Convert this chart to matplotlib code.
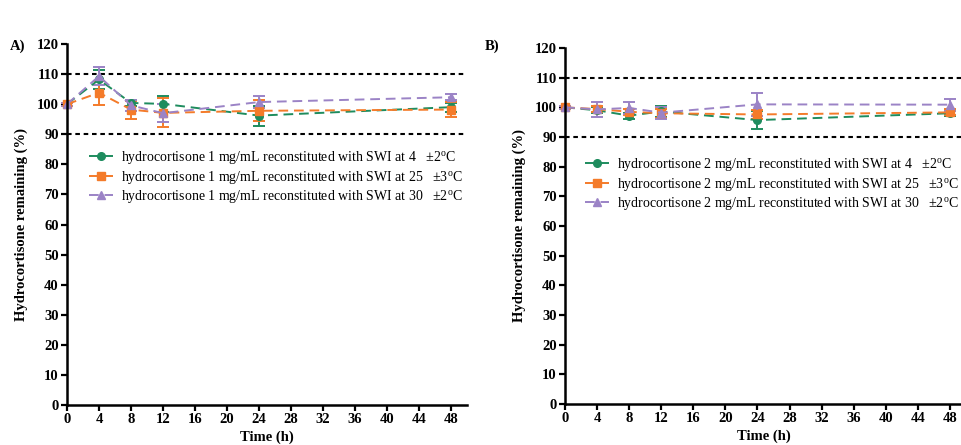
import matplotlib
matplotlib.use("Agg")
import matplotlib.pyplot as plt
from matplotlib.lines import Line2D

plt.rcParams['font.family'] = ['Liberation Serif', 'DejaVu Serif']
plt.rcParams['mathtext.fontset'] = 'custom'
plt.rcParams['mathtext.rm'] = 'Liberation Serif'
plt.rcParams['mathtext.it'] = 'Liberation Serif:italic'
plt.rcParams['mathtext.bf'] = 'Liberation Serif:bold'

time_h = [0, 4, 8, 12, 24, 48]

# Panel A: 1 mg/mL
a_4c = [100, 108.2, 100.4, 100.1, 96.2, 99.0]
a_4c_err = [0.5, 3.0, 1.0, 2.6, 3.3, 1.5]
a_25c = [100, 103.8, 98.2, 97.1, 97.8, 98.2]
a_25c_err = [0.5, 4.0, 3.0, 4.8, 3.5, 2.5]
a_30c = [100, 109.3, 99.6, 97.0, 100.7, 102.3]
a_30c_err = [0.5, 3.0, 1.8, 3.0, 2.0, 1.0]

# Panel B: 2 mg/mL
b_4c = [100, 99.0, 97.2, 98.6, 95.7, 98.0]
b_4c_err = [0.5, 1.0, 1.0, 2.0, 3.0, 1.0]
b_25c = [100, 99.4, 98.5, 98.0, 97.6, 98.3]
b_25c_err = [0.5, 1.0, 1.0, 1.5, 1.5, 1.0]
b_30c = [100, 99.3, 99.8, 98.2, 101.0, 100.9]
b_30c_err = [0.5, 2.5, 2.0, 2.0, 4.0, 2.0]

legend_a = [
    "hydrocortisone 1 mg/mL reconstituted with SWI at 4   \u00b12$^{\\rm o}$C",
    "hydrocortisone 1 mg/mL reconstituted with SWI at 25   \u00b13$^{\\rm o}$C",
    "hydrocortisone 1 mg/mL reconstituted with SWI at 30   \u00b12$^{\\rm o}$C",
]
legend_b = [
    "hydrocortisone 2 mg/mL reconstituted with SWI at 4   \u00b12$^{\\rm o}$C",
    "hydrocortisone 2 mg/mL reconstituted with SWI at 25   \u00b13$^{\\rm o}$C",
    "hydrocortisone 2 mg/mL reconstituted with SWI at 30   \u00b12$^{\\rm o}$C",
]

x_ticks = list(range(0, 49, 4))
y_ticks = list(range(0, 121, 10))

colors = ['#1e8c5e', '#f47b2a', '#9b83c6']
markers = ['o', 's', '^']
dash = (0, (5, 3))

fig = plt.figure(figsize=(9.62, 4.45), dpi=100)
axA = fig.add_axes([67/962, 40/445, 400/962, 361/445])
axB = fig.add_axes([565/962, 41/445, 397/962, 356/445])

def draw(ax, series, errs, labels, xmax, anchor):
    handles = []
    for v, e, lab, c, m in zip(series, errs, labels, colors, markers):
        ax.errorbar(time_h, v, yerr=e, color=c, marker=m, markersize=5.5,
                    linestyle=dash, linewidth=1.4, capsize=4.3,
                    elinewidth=1.4, capthick=1.4, clip_on=False)
        handles.append(Line2D([], [], color=c, marker=m, markersize=5.5,
                              linestyle=dash, linewidth=1.4, label=lab))
    for yv in (90, 110):
        ax.axhline(yv, color='black', linestyle=(0, (2.2, 1.8)), linewidth=1.5, zorder=0)
    ax.set_xlim(0, xmax)
    ax.set_ylim(0, 120)
    ax.set_xticks(x_ticks)
    ax.set_yticks(y_ticks)
    for s in ('top', 'right'):
        ax.spines[s].set_visible(False)
    for s in ('left', 'bottom'):
        ax.spines[s].set_linewidth(1.8)
    ax.tick_params(direction='out', width=1.6, length=4, labelsize=10.5, pad=2)
    for t in ax.get_xticklabels() + ax.get_yticklabels():
        t.set_fontweight('bold')
    ax.set_xlabel('Time (h)', fontsize=10.5, fontweight='bold', labelpad=3)
    ax.set_ylabel('Hydrocortisone remaining (%)', fontsize=10.5, fontweight='bold', labelpad=6)
    ax.legend(handles=handles, loc='upper left', bbox_to_anchor=anchor, frameon=False,
              fontsize=10, handlelength=1.7, labelspacing=0.18, borderaxespad=0,
              handletextpad=0.6)

draw(axA, [a_4c, a_25c, a_30c], [a_4c_err, a_25c_err, a_30c_err], legend_a, 50, (0.041, 0.724))
draw(axB, [b_4c, b_25c, b_30c], [b_4c_err, b_25c_err, b_30c_err], legend_b, 49.5, (0.037, 0.712))

fig.text(10/962, 1 - 46/445, 'A)', fontsize=10.5, fontweight='bold', va='center')
fig.text(485/962, 1 - 46/445, 'B)', fontsize=10.5, fontweight='bold', va='center')

fig.savefig('out.png', dpi=100)
